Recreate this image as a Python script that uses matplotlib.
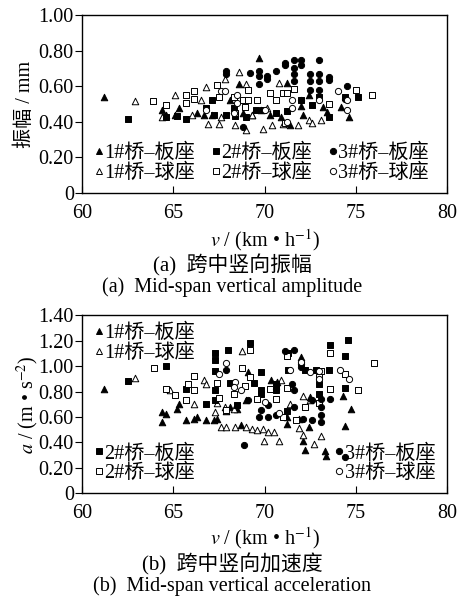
import matplotlib
matplotlib.use('Agg')
import matplotlib.pyplot as plt
from matplotlib.lines import Line2D

plt.rcParams['font.family'] = ['Liberation Serif', 'Noto Sans CJK SC']
plt.rcParams['mathtext.fontset'] = 'stix'
plt.rcParams['font.size'] = 14

labels = ['1#桥–板座', '1#桥–球座', '2#桥–板座', '2#桥–球座', '3#桥–板座', '3#桥–球座']

# (a) mid-span vertical amplitude, mm
amp_tri_f = [(61.2, 0.537), (69.7, 0.756), (68.6, 0.615), (71.2, 0.62), (64.4, 0.465), (64.6, 0.44), (65.1, 0.44),
             (65.3, 0.48), (66.3, 0.447), (66.7, 0.44), (67.1, 0.437), (68.1, 0.52), (68.3, 0.465), (68.8, 0.447),
             (70.3, 0.437), (70.9, 0.428), (71.4, 0.381), (72.0, 0.488), (72.1, 0.437), (73.2, 0.484), (73.4, 0.456),
             (74.2, 0.484), (74.6, 0.428), (72.4, 0.55), (69.3, 0.437)]
amp_tri_o = [(62.9, 0.518), (65.1, 0.553), (66.8, 0.597), (67.8, 0.64), (68.6, 0.68), (69.0, 0.615), (70.8, 0.62),
             (64.4, 0.428), (66.0, 0.437), (66.5, 0.52), (66.9, 0.39), (67.5, 0.386), (68.4, 0.381), (69.0, 0.356),
             (69.9, 0.362), (70.4, 0.381), (71.0, 0.386), (71.8, 0.381), (72.4, 0.409), (72.6, 0.394), (73.1, 0.409),
             (69.8, 0.465), (70.1, 0.475), (67.6, 0.428), (69.3, 0.437)]
amp_sq_f = [(62.5, 0.413), (65.7, 0.418), (66.8, 0.475), (67.1, 0.525), (67.2, 0.437), (67.9, 0.437), (68.3, 0.475),
            (68.4, 0.432), (69.0, 0.428), (69.5, 0.469), (69.9, 0.465), (70.6, 0.447), (71.2, 0.46), (72.0, 0.525),
            (72.6, 0.493), (73.0, 0.54), (73.5, 0.428), (74.4, 0.54), (75.1, 0.54), (65.2, 0.432), (64.6, 0.428)]
amp_sq_o = [(63.9, 0.516), (64.6, 0.497), (65.7, 0.55), (65.7, 0.503), (66.1, 0.574), (66.1, 0.531), (67.4, 0.606),
            (67.5, 0.54), (68.3, 0.54), (68.8, 0.52), (69.1, 0.578), (69.1, 0.52), (69.6, 0.525), (70.3, 0.563),
            (70.6, 0.52), (71.0, 0.563), (71.2, 0.563), (71.6, 0.582), (71.1, 0.394), (73.5, 0.50), (75.0, 0.578),
            (75.9, 0.553), (68.4, 0.447), (68.9, 0.484)]
amp_ci_f = [(67.9, 0.687), (67.9, 0.668), (69.2, 0.675), (69.7, 0.687), (69.7, 0.657), (69.7, 0.615), (70.1, 0.657),
            (70.1, 0.638), (70.6, 0.687), (71.1, 0.73), (71.1, 0.717), (71.6, 0.75), (71.6, 0.70), (71.6, 0.668),
            (71.6, 0.63), (72.0, 0.747), (72.0, 0.72), (72.5, 0.668), (72.5, 0.63), (73.0, 0.747), (73.0, 0.668),
            (73.0, 0.63), (73.0, 0.578), (73.5, 0.653), (73.5, 0.634), (74.5, 0.60), (72.0, 0.52), (68.8, 0.368),
            (74.4, 0.531), (72.5, 0.578)]
amp_ci_o = [(67.6, 0.574), (67.8, 0.574), (68.5, 0.553), (66.8, 0.465), (71.2, 0.40), (71.5, 0.525), (71.5, 0.475),
            (73.0, 0.525), (74.0, 0.574), (74.5, 0.525), (74.5, 0.469), (70.0, 0.465), (68.3, 0.447), (68.5, 0.503)]

# (b) mid-span vertical acceleration, m/s2
acc_tri_f = [(61.2, 0.822), (64.4, 0.638), (64.6, 0.62), (64.4, 0.559), (65.2, 0.665), (65.3, 0.699), (65.7, 0.578),
             (66.1, 0.586), (66.3, 0.599), (66.8, 0.578), (67.2, 0.578), (67.4, 0.586), (67.9, 0.651), (68.1, 0.678),
             (68.5, 0.665), (68.7, 0.541), (69.1, 0.953), (70.35, 0.893), (70.7, 0.875), (71.2, 0.599), (71.2, 0.546),
             (72.0, 1.072), (72.1, 0.415), (72.2, 0.341), (72.45, 0.525), (72.5, 0.756), (73.3, 0.331), (73.35, 0.297),
             (74.3, 0.762), (74.4, 0.533), (74.7, 0.665), (71.9, 0.586), (69.0, 0.73)]
acc_tri_o = [(62.9, 0.906), (64.8, 0.809), (66.1, 0.704), (66.7, 0.888), (66.8, 0.862), (67.3, 0.638), (67.6, 0.52),
             (67.9, 0.525), (68.4, 0.52), (68.75, 1.119), (69.0, 0.52), (69.3, 0.507), (69.6, 0.494), (69.9, 0.507),
             (69.95, 0.41), (70.2, 0.481), (70.5, 0.481), (70.8, 0.41), (70.9, 0.888), (71.4, 0.704), (71.9, 0.515),
             (72.1, 0.762), (72.1, 0.462), (72.7, 0.389), (72.5, 0.73), (73.1, 0.454), (67.8, 0.678), (68.3, 0.665),
             (67.4, 0.709)]
acc_sq_f = [(62.5, 0.883), (64.6, 1.001), (65.7, 0.822), (66.8, 0.704), (67.3, 1.106), (67.3, 1.045), (67.3, 0.961),
            (67.3, 0.814), (67.3, 0.73), (68.0, 1.124), (68.1, 0.867), (68.5, 0.691), (69.2, 1.182), (69.4, 0.867),
            (69.8, 0.953), (69.8, 0.809), (69.8, 0.783), (70.6, 0.862), (70.6, 0.809), (71.3, 0.967), (71.3, 1.103),
            (72.2, 0.967), (72.8, 0.967), (73.0, 0.862), (73.0, 0.778), (73.6, 1.164), (73.5, 0.967), (74.4, 1.077),
            (74.4, 0.83), (74.55, 1.208), (71.2, 0.651)]
acc_sq_o = [(63.95, 0.985), (64.6, 0.822), (65.1, 0.775), (65.7, 0.736), (65.8, 0.862), (66.1, 0.925), (66.1, 0.814),
            (67.4, 0.867), (67.5, 0.751), (67.9, 0.659), (68.3, 0.783), (68.75, 0.982), (68.9, 0.848), (69.2, 1.124),
            (69.2, 0.914), (69.6, 0.741), (70.3, 0.822), (70.6, 0.738), (71.0, 0.604), (71.2, 1.077), (71.2, 0.83),
            (71.7, 0.58), (72.2, 0.678), (73.0, 0.709), (73.1, 0.959), (73.6, 1.103), (73.6, 0.822), (74.4, 0.94),
            (75.1, 0.814), (76.0, 1.024), (73.0, 0.914)]
acc_ci_f = [(67.9, 0.972), (68.85, 0.376), (69.1, 0.73), (69.8, 0.657), (69.7, 0.599), (70.2, 0.691), (70.2, 0.599),
            (70.6, 0.612), (71.1, 1.116), (71.6, 1.124), (71.5, 0.862), (71.6, 0.678), (72.0, 1.019), (72.0, 0.993),
            (72.1, 0.586), (72.6, 0.578), (72.6, 0.736), (73.1, 0.738), (73.1, 0.678), (73.1, 0.617), (73.1, 0.559),
            (73.6, 0.738), (74.4, 0.289), (71.6, 0.814), (70.6, 0.822)]
acc_ci_o = [(67.9, 1.024), (67.5, 0.94), (68.4, 0.872), (68.7, 0.809), (70.0, 0.722), (71.4, 0.967), (72.0, 1.032),
            (72.5, 0.951), (73.0, 0.896), (73.0, 0.961), (74.1, 0.967), (74.6, 0.896), (70.8, 0.63), (68.3, 0.835)]

markers = ['^', '^', 's', 's', 'o', 'o']
filled = [True, False, True, False, True, False]
sizes = [22, 22, 20, 20, 20, 20]


def draw(ax, series):
    for pts, m, f, s in zip(series, markers, filled, sizes):
        xs = [p[0] for p in pts]
        ys = [p[1] for p in pts]
        ax.scatter(xs, ys, marker=m, s=s, facecolors='black' if f else 'white',
                   edgecolors='black', linewidths=0.7, zorder=3)


def handle(i):
    return Line2D([], [], linestyle='none', marker=markers[i], markersize=4.5,
                  markerfacecolor='black' if filled[i] else 'white',
                  markeredgecolor='black', markeredgewidth=0.7)


def style(ax, ymax, ystep, xlab_y):
    ax.set_xlim(60, 80)
    ax.set_ylim(0, ymax)
    ax.set_xticks([60, 65, 70, 75, 80])
    yt = [round(i * ystep, 2) for i in range(int(round(ymax / ystep)) + 1)]
    ax.set_yticks(yt)
    ax.set_yticklabels(['0' if v == 0 else '%.2f' % v for v in yt])
    ax.tick_params(axis='x', direction='in', length=5, width=0.8, labelsize=14.5, pad=8)
    ax.tick_params(axis='y', direction='out', length=5, width=0.8, labelsize=14.5, pad=1)
    for sp in ax.spines.values():
        sp.set_linewidth(1.0)
    ax.set_xlabel(r'$v$ / (km • h$^{-1}$)', fontsize=14.5, va='center')
    ax.xaxis.set_label_coords(0.5, xlab_y)


fig = plt.figure(figsize=(4.64, 6.03), dpi=100)
ax1 = fig.add_axes([0.177, 0.680, 0.787, 0.295])
ax2 = fig.add_axes([0.177, 0.182, 0.787, 0.295])

leg_kw = dict(frameon=False, fontsize=14.5, handlelength=0.45, handletextpad=0.05,
              labelspacing=0.0, borderaxespad=0.2)

draw(ax1, [amp_tri_f, amp_tri_o, amp_sq_f, amp_sq_o, amp_ci_f, amp_ci_o])
style(ax1, 1.0, 0.2, -0.265)
ax1.set_ylabel('振幅 / mm', fontsize=14.5, va='center')
ax1.yaxis.set_label_coords(-0.155, 0.5)
ax1.legend([handle(i) for i in range(6)], labels, ncol=3, loc='lower left',
           bbox_to_anchor=(0.0, -0.01), columnspacing=0.8, **leg_kw)

draw(ax2, [acc_tri_f, acc_tri_o, acc_sq_f, acc_sq_o, acc_ci_f, acc_ci_o])
style(ax2, 1.4, 0.2, -0.253)
ax2.set_ylabel(r'$a$ / (m • s$^{-2}$)', fontsize=14.5, va='center')
ax2.yaxis.set_label_coords(-0.148, 0.5)
lg1 = ax2.legend([handle(0), handle(1)], labels[0:2], loc='upper left', bbox_to_anchor=(0.0, 1.02), **leg_kw)
ax2.add_artist(lg1)
lg2 = ax2.legend([handle(2), handle(3)], labels[2:4], loc='lower left', bbox_to_anchor=(0.0, -0.01), **leg_kw)
ax2.add_artist(lg2)
ax2.legend([handle(4), handle(5)], labels[4:6], loc='lower right', bbox_to_anchor=(1.0, -0.01), **leg_kw)

fig.text(0.5, 1 - 265 / 603, '(a)  跨中竖向振幅', ha='center', va='center', fontsize=15)
fig.text(0.5, 1 - 287 / 603, '(a)  Mid-span vertical amplitude', ha='center', va='center', fontsize=14.5)
fig.text(0.5, 1 - 564 / 603, '(b)  跨中竖向加速度', ha='center', va='center', fontsize=15)
fig.text(0.5, 1 - 586 / 603, '(b)  Mid-span vertical acceleration', ha='center', va='center', fontsize=14.5)

fig.savefig('out.png', dpi=100)
